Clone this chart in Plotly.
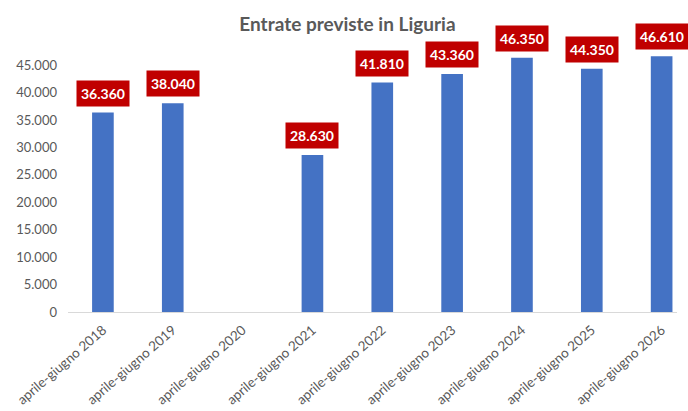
import plotly.graph_objects as go

periodi = ['aprile-giugno 2018', 'aprile-giugno 2019', 'aprile-giugno 2020',
           'aprile-giugno 2021', 'aprile-giugno 2022', 'aprile-giugno 2023',
           'aprile-giugno 2024', 'aprile-giugno 2025', 'aprile-giugno 2026']
entrate = [36360, 38040, None, 28630, 41810, 43360, 46350, 44350, 46610]
tick_vals = [0, 5000, 10000, 15000, 20000, 25000, 30000, 35000, 40000, 45000]
tick_text = ['0', '5.000', '10.000', '15.000', '20.000', '25.000',
             '30.000', '35.000', '40.000', '45.000']


def fmt(v):
    return f'{v:,}'.replace(',', '.')


fig = go.Figure()
fig.add_trace(go.Bar(x=periodi, y=entrate, marker_color='#4472C4',
                     marker_line_width=0, width=0.31))

for p, v in zip(periodi, entrate):
    if v is None:
        continue
    fig.add_annotation(x=p, y=v, text='<b>' + fmt(v) + '</b>', showarrow=False,
                       yanchor='bottom', yshift=6, bgcolor='#C00000',
                       font=dict(color='white', size=14), borderpad=4)

fig.update_layout(
    width=688, height=411,
    title=dict(text='<b>Entrate previste in Liguria</b>', x=0.505, xanchor='center',
               y=0.958, font=dict(size=19, color='#595959')),
    font_family='Lato',
    plot_bgcolor='white', paper_bgcolor='white',
    margin=dict(l=68, r=11, t=30, b=99),
    showlegend=False,
    bargap=0.69
)
fig.update_xaxes(range=[-0.5, 8.22], tickangle=-41, showline=True,
                 linecolor='#D9D9D9', linewidth=1, automargin=False,
                 ticklabelstandoff=4,
                 tickfont=dict(size=13.5, color='#595959'), ticks='')
fig.update_yaxes(range=[0, 51400], tickvals=tick_vals, ticktext=tick_text,
                 showgrid=False, zeroline=False, automargin=False,
                 ticklabelstandoff=10,
                 tickfont=dict(size=13, color='#595959'), ticks='')

# body margin off so the figure sits at the page's top-left corner
fig.write_html('out.html', config={'displayModeBar': False},
               post_script="document.body.style.margin='0';")
